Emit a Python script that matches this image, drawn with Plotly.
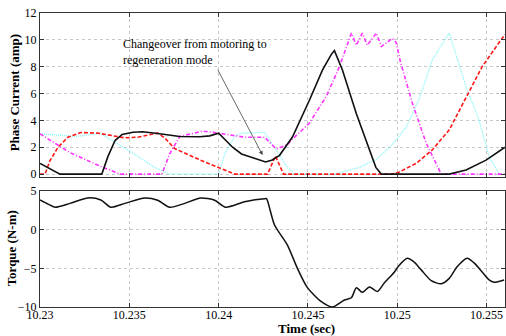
import plotly.graph_objects as go

# ---------------- data ----------------
t_black = [10.23000, 10.23112, 10.23346, 10.23380, 10.23420, 10.23460, 10.23520, 10.23575,
           10.23670, 10.23782, 10.23894, 10.23950, 10.24000, 10.24040, 10.24078, 10.24128,
           10.24180, 10.24229, 10.24263, 10.24300, 10.24341, 10.24413, 10.24508, 10.24581,
           10.24630, 10.24648, 10.24693, 10.24771, 10.24844, 10.24880, 10.24911, 10.25291,
           10.25385, 10.25497, 10.25603]
i_black = [0.8, 0, 0, 1.3, 2.5, 2.95, 3.12, 3.15,
           3.0, 2.8, 2.78, 2.85, 3.05, 2.5, 2.0, 1.5,
           1.25, 1.05, 0.9, 1.05, 1.4, 2.76, 5.5, 7.75,
           8.9, 9.2, 7.75, 4.5, 1.8, 0.5, 0, 0,
           0.3, 1.04, 2.0]

t_mag = [10.23000, 10.23168, 10.23335, 10.23447, 10.23682, 10.23726, 10.23782, 10.23911,
         10.24000, 10.24145, 10.24257, 10.24313, 10.24330, 10.24385, 10.24413, 10.24508,
         10.24603, 10.24676, 10.24743, 10.24771, 10.24804, 10.24832, 10.24883, 10.24911,
         10.24972, 10.24994, 10.25017, 10.25084, 10.25162, 10.25246, 10.25603]
i_mag = [3.0, 1.6, 0.6, 0, 0, 1.5, 2.8, 3.2,
         3.05, 2.75, 2.75, 2.0, 1.9, 2.2, 2.6, 3.8,
         5.8, 8.0, 10.5, 9.6, 10.5, 9.6, 10.5, 9.5,
         10.1, 9.8, 8.4, 5.3, 2.3, 0, 0]

t_cyan = [10.23000, 10.23207, 10.23335, 10.23492, 10.23642, 10.23726, 10.24000, 10.24034,
          10.24089, 10.24128, 10.24257, 10.24313, 10.24385, 10.24425, 10.24648, 10.24788,
          10.24883, 10.24972, 10.25050, 10.25123, 10.25196, 10.25291, 10.25385, 10.25458,
          10.25514, 10.25570, 10.25603]
i_cyan = [3.0, 2.8, 3.05, 1.8, 0.5, 0, 0, 1.5,
          2.8, 3.05, 3.1, 2.0, 0.5, 0, 0, 0.5,
          1.1, 2.2, 3.5, 5.6, 8.5, 10.5, 6.5, 4.0,
          1.3, 0, 0]

t_red = [10.23000, 10.23028, 10.23056, 10.23101, 10.23156, 10.23229, 10.23324, 10.23475,
         10.23547, 10.23659, 10.23698, 10.23754, 10.23922, 10.24034, 10.24089, 10.24274,
         10.24318, 10.24363, 10.24972, 10.25011, 10.25106, 10.25196, 10.25291, 10.25385,
         10.25475, 10.25570, 10.25603]
i_red = [0, 0, 1.0, 2.0, 2.75, 3.1, 3.05, 2.7,
         2.75, 3.05, 2.7, 1.9, 0.9, 0.3, 0, 0,
         1.35, 0, 0, 0.15, 0.8, 1.8, 3.3, 5.7,
         8.0, 9.8, 10.4]

t_torque = [10.23000, 10.23045, 10.23084, 10.23168, 10.23268, 10.23341, 10.23397, 10.23475,
            10.23587, 10.23659, 10.23726, 10.23810, 10.23899, 10.23978, 10.24039, 10.24145,
            10.24257, 10.24268, 10.24285, 10.24313, 10.24385, 10.24441, 10.24497, 10.24575,
            10.24637, 10.24704, 10.24743, 10.24771, 10.24804, 10.24844, 10.24888, 10.24927,
            10.24983, 10.25011, 10.25056, 10.25095, 10.25134, 10.25190, 10.25246, 10.25291,
            10.25335, 10.25391, 10.25430, 10.25469, 10.25514, 10.25542, 10.25598]
torque = [3.84, 3.3, 2.9, 3.4, 4.1, 3.84, 2.9, 3.4,
          4.1, 3.8, 2.9, 3.4, 4.1, 3.8, 2.9, 3.6,
          4.0, 4.0, 2.8, 0.6, -2.0, -5.0, -7.5, -9.3,
          -10.0, -9.1, -8.8, -7.5, -8.1, -7.4, -8.0, -6.9,
          -5.5, -4.6, -3.7, -4.2, -5.2, -6.6, -7.0, -6.3,
          -4.8, -3.7, -4.3, -5.3, -6.5, -6.8, -6.5]

x_ticks = [10.23, 10.235, 10.24, 10.245, 10.25, 10.255]
x_ticklabels = ["10.23", "10.235", "10.24", "10.245", "10.25", "10.255"]
top_yticks = [0, 2, 4, 6, 8, 10, 12]
bot_yticks = [-10, -5, 0, 5]

FONT = "Liberation Serif"

fig = go.Figure()
fig.add_trace(go.Scatter(x=t_cyan, y=i_cyan, mode="lines", xaxis="x", yaxis="y",
                         line=dict(color="#7ff5f5", width=1.3, dash="1px,1px")))
fig.add_trace(go.Scatter(x=t_red, y=i_red, mode="lines", xaxis="x", yaxis="y",
                         line=dict(color="#ff1a1a", width=1.6, dash="4px,2px")))
fig.add_trace(go.Scatter(x=t_mag, y=i_mag, mode="lines", xaxis="x", yaxis="y",
                         line=dict(color="#ff33ff", width=1.6, dash="4px,2px,1px,2px")))
fig.add_trace(go.Scatter(x=t_black, y=i_black, mode="lines", xaxis="x", yaxis="y",
                         line=dict(color="#111111", width=1.6)))
fig.add_trace(go.Scatter(x=t_torque, y=torque, mode="lines", xaxis="x2", yaxis="y2",
                         line=dict(color="#111111", width=1.5, shape="spline", smoothing=0.7)))

xrange = [10.23, 10.25603]
axis_common = dict(showline=True, linecolor="#333333", linewidth=1, mirror="ticks",
                   ticks="inside", ticklen=4, tickcolor="#333333",
                   showgrid=True, gridcolor="#c8c8c8", griddash="dot", gridwidth=1,
                   zeroline=False, tickfont=dict(family=FONT, size=12, color="black"))

fig.update_layout(
    width=506, height=336,
    margin=dict(l=40, r=1, t=13, b=29),
    paper_bgcolor="white", plot_bgcolor="white",
    showlegend=False,
    xaxis=dict(domain=[0, 1], anchor="y", range=xrange, tickvals=x_ticks,
               showticklabels=False, **axis_common),
    yaxis=dict(domain=[0.442, 1], anchor="x", range=[-0.22, 12], tickvals=top_yticks,
               **axis_common),
    xaxis2=dict(domain=[0, 1], anchor="y2", range=xrange, tickvals=x_ticks,
                ticktext=x_ticklabels, ticklabelstandoff=-3, **axis_common),
    yaxis2=dict(domain=[0, 0.3946], anchor="x2", range=[-10, 5], tickvals=bot_yticks,
                **axis_common),
)

# axis titles
fig.add_annotation(text="<b>Phase Current (amp)</b>", xref="paper", yref="paper",
                   x=-0.056, y=0.73, xanchor="center", yanchor="middle",
                   textangle=-90, showarrow=False,
                   font=dict(family=FONT, size=13, color="black"))
fig.add_annotation(text="<b>Torque (N-m)</b>", xref="paper", yref="paper",
                   x=-0.062, y=0.20, xanchor="center", yanchor="middle",
                   textangle=-90, showarrow=False,
                   font=dict(family=FONT, size=13, color="black"))
fig.add_annotation(text="<b>Time (sec)</b>", xref="paper", yref="paper",
                   x=0.574, y=-0.072, showarrow=False, xanchor="center", yanchor="middle",
                   font=dict(family=FONT, size=13, color="black"))

# changeover note
fig.add_annotation(text="Changeover from motoring to<br>regeneration mode",
                   xref="x", yref="y", x=10.23453, y=9.1, xanchor="left", yanchor="middle",
                   align="left", showarrow=False,
                   font=dict(family=FONT, size=12, color="black"))
fig.add_annotation(text=" ", xref="x", yref="y", x=10.24246, y=1.42,
                   axref="x", ayref="y", ax=10.23978, ay=8.2,
                   showarrow=True, arrowhead=2, arrowsize=1, arrowwidth=0.8,
                   arrowcolor="#404040")

fig.write_html("out.html")
